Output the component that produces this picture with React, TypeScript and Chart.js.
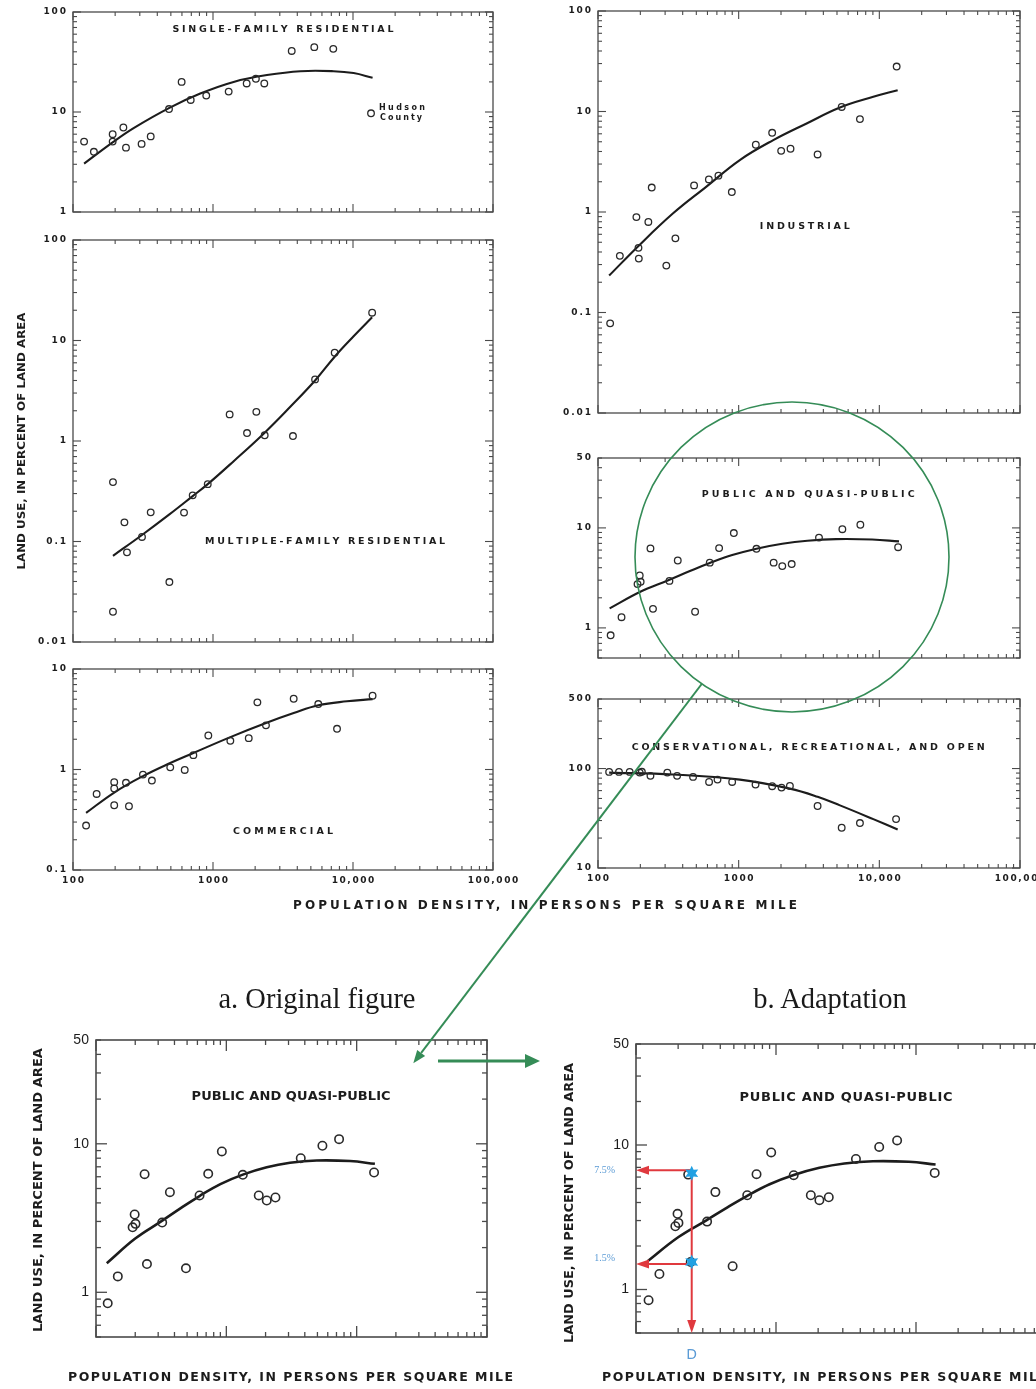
import React, { useEffect, useRef } from "react";
import { Chart, registerables } from "chart.js";
Chart.register(...registerables);

// ---------------- data ----------------
const X_TICK_LABELS = ["100", "1000", "10,000", "100,000"];
const Y_TICKS_1_100 = ["100", "10", "1"];
const Y_TICKS_001_100 = ["100", "10", "1", "0.1", "0.01"];
const Y_TICKS_01_10 = ["10", "1", "0.1"];
const Y_TICKS_05_50 = ["50", "10", "1"];
const Y_TICKS_10_500 = ["500", "100", "10"];

// Single-family residential
const singleX = [120, 141, 192, 192, 229, 239, 309, 359, 485, 597, 693, 895, 1294, 1740, 2024, 2325, 3650, 5290, 7230];
const singleY = [5.06, 4.0, 6.0, 5.06, 7.0, 4.4, 4.8, 5.7, 10.7, 20, 13.2, 14.6, 16, 19.3, 21.5, 19.3, 40.8, 44.5, 42.8];
const hudsonX = [13450];
const hudsonY = [9.7];
const singleCurveX = [120, 193, 271, 488, 811, 1403, 2430, 4210, 7260, 10100, 13800];
const singleCurveY = [3.05, 5.0, 6.9, 11.0, 15.3, 20, 23.4, 25.6, 25.6, 24.5, 22];

// Multiple-family residential
const multiX = [193, 193, 233, 243, 311, 359, 488, 621, 716, 917, 1315, 1750, 2040, 2340, 3725, 5360, 7400, 13700];
const multiY = [0.39, 0.02, 0.155, 0.078, 0.111, 0.195, 0.0395, 0.194, 0.288, 0.372, 1.84, 1.2, 1.95, 1.14, 1.12, 4.1, 7.55, 18.9];
const multiCurveX = [193, 311, 488, 716, 917, 1405, 2340, 3565, 5360, 7400, 10100, 13700];
const multiCurveY = [0.072, 0.116, 0.186, 0.283, 0.372, 0.63, 1.21, 2.19, 4.0, 6.9, 11.0, 17];

// Commercial
const commX = [124, 147.5, 197, 197, 197, 239, 251, 316, 366, 495, 628, 724, 926, 1330, 1800, 2075, 2390, 3770, 5650, 7690, 13800];
const commY = [0.277, 0.571, 0.748, 0.647, 0.441, 0.737, 0.431, 0.89, 0.776, 1.05, 0.99, 1.39, 2.18, 1.93, 2.05, 4.66, 2.75, 5.06, 4.48, 2.54, 5.42];
const commCurveX = [124, 197, 316, 495, 724, 1330, 2390, 3770, 5650, 9060, 13800];
const commCurveY = [0.37, 0.59, 0.86, 1.16, 1.46, 2.1, 2.9, 3.64, 4.35, 4.77, 5.02];

// Industrial
const indX = [122, 143, 187.5, 194, 195, 228, 241, 306, 355, 482, 614, 718, 894, 1324, 1730, 2005, 2337, 3640, 5400, 7280, 13280];
const indY = [0.078, 0.366, 0.89, 0.44, 0.344, 0.796, 1.75, 0.293, 0.547, 1.84, 2.11, 2.3, 1.58, 4.67, 6.14, 4.06, 4.26, 3.74, 11.1, 8.4, 28];
const indCurveX = [120, 194, 342, 590, 1019, 1762, 3040, 5250, 9060, 13500];
const indCurveY = [0.233, 0.46, 0.97, 1.79, 3.29, 5.19, 7.6, 10.96, 14, 16.3];

// Public and quasi-public
const pubX = [123, 147, 198, 191, 201, 236, 246, 322, 369, 490, 623, 726, 924, 1338, 1773, 2042, 2382, 3724, 5460, 7330, 13600];
const pubY = [0.843, 1.28, 3.34, 2.74, 2.89, 6.24, 1.55, 2.95, 4.72, 1.45, 4.49, 6.28, 8.88, 6.18, 4.49, 4.15, 4.35, 8.0, 9.7, 10.75, 6.41];
const pubCurveX = [121, 200, 316, 450, 623, 900, 1338, 2042, 3080, 4930, 8890, 13800];
const pubCurveY = [1.57, 2.3, 3.0, 3.7, 4.45, 5.35, 6.2, 6.95, 7.45, 7.72, 7.65, 7.33];

// Conservational, recreational and open
const consX = [120, 141, 168, 198, 205, 236, 311, 365, 474, 616, 707, 899, 1318, 1731, 2017, 2313, 3640, 5400, 7280, 13150];
const consY = [92.5, 92.5, 92.5, 91, 92.7, 84.4, 91, 84.4, 82.4, 73.3, 77.4, 73.3, 68.9, 66.4, 64.3, 66.8, 42, 25.4, 28.3, 31];
const consCurveX = [120, 342, 1019, 2313, 3640, 5250, 9060, 13500];
const consCurveY = [91, 87, 77.4, 62.8, 52, 42.6, 31, 24.4];

// Adaptation annotation
const D_VALUE = [250];
const MARK_Y = [6.7, 1.5];
const MARK_LABELS = ["7.5%", "1.5%"];
const D_LABEL = "D";

// ---------------- styling ----------------
const INK = "#1c1c1c";
const FRAME = "#4a4a4a";
const GREEN = "#358c57";
const RED = "#e0393e";
const BLUE_TXT = "#5b9bd5";
const BLUE_STAR = "#22a0e2";
const PAD_L = 78, PAD_R = 40, PAD_T = 12, PAD_B = 26;

const num = (s: string) => Number(s.replace(/,/g, ""));

type Spec = {
  key: string;
  left: number; top: number; width: number; height: number;
  yMin: number; yMax: number;
  yTicks: string[];
  xTicks?: string[];
  title: string; tfx: number; tfy: number; tw: number;
  xs: number[]; ys: number[]; cx: number[]; cy: number[];
  big?: boolean;
  extra?: (chart: any) => void;
};

function logTicks(min: number, max: number) {
  const out: { v: number; major: boolean }[] = [];
  for (let e = Math.floor(Math.log10(min)) - 1; e <= Math.ceil(Math.log10(max)); e++) {
    for (let k = 1; k <= 9; k++) {
      const v = k * Math.pow(10, e);
      if (v >= min * 0.999 && v <= max * 1.001) out.push({ v, major: k === 1 });
    }
  }
  return out;
}

function seg(ctx: CanvasRenderingContext2D, x1: number, y1: number, x2: number, y2: number) {
  ctx.beginPath(); ctx.moveTo(x1, y1); ctx.lineTo(x2, y2); ctx.stroke();
}

function drawSpaced(ctx: CanvasRenderingContext2D, text: string, x: number, y: number, align: string, spacing: number) {
  const chars = [...text];
  const ws = chars.map((c) => ctx.measureText(c).width);
  const total = ws.reduce((s, w) => s + w, 0) + spacing * (chars.length - 1);
  let cx = align === "left" ? x : align === "center" ? x - total / 2 : x - total;
  ctx.textAlign = "left";
  chars.forEach((c, i) => { ctx.fillText(c, cx, y); cx += ws[i] + spacing; });
}

function fitSpacing(ctx: CanvasRenderingContext2D, text: string, width: number) {
  const chars = [...text];
  const nat = chars.reduce((s, c) => s + ctx.measureText(c).width, 0);
  return (width - nat) / Math.max(1, chars.length - 1);
}

function arrow(ctx: CanvasRenderingContext2D, x1: number, y1: number, x2: number, y2: number, len: number, half: number) {
  const dx = x2 - x1, dy = y2 - y1; const L = Math.hypot(dx, dy);
  const ux = dx / L, uy = dy / L;
  const bx = x2 - ux * len, by = y2 - uy * len;
  seg(ctx, x1, y1, bx, by);
  ctx.beginPath();
  ctx.moveTo(x2, y2);
  ctx.lineTo(bx - uy * half, by + ux * half);
  ctx.lineTo(bx + uy * half, by - ux * half);
  ctx.closePath(); ctx.fill();
}

function star(ctx: CanvasRenderingContext2D, x: number, y: number, R: number, r: number) {
  ctx.beginPath();
  for (let i = 0; i < 12; i++) {
    const ang = -Math.PI / 2 + (i * Math.PI) / 6;
    const rad = i % 2 === 0 ? R : r;
    const px = x + rad * Math.cos(ang), py = y + rad * Math.sin(ang);
    if (i === 0) ctx.moveTo(px, py); else ctx.lineTo(px, py);
  }
  ctx.closePath(); ctx.fill();
}

function drawDecor(chart: any, spec: Spec) {
  const ctx: CanvasRenderingContext2D = chart.ctx;
  const a = chart.chartArea;
  const xs = chart.scales.x, ys = chart.scales.y;
  const big = !!spec.big;
  ctx.save();
  ctx.strokeStyle = FRAME;
  ctx.lineWidth = big ? 1.6 : 1.3;
  ctx.strokeRect(a.left, a.top, a.right - a.left, a.bottom - a.top);
  const majL = big ? 11 : 8, minL = big ? 5 : 4;
  ctx.lineWidth = big ? 1.3 : 1.1;
  for (const t of logTicks(100, 100000)) {
    const p = xs.getPixelForValue(t.v);
    const L = t.major ? majL : minL;
    seg(ctx, p, a.bottom, p, a.bottom - L);
    seg(ctx, p, a.top, p, a.top + L);
  }
  for (const t of logTicks(spec.yMin, spec.yMax)) {
    const p = ys.getPixelForValue(t.v);
    const L = t.major ? majL : minL;
    seg(ctx, a.left, p, a.left + L, p);
    seg(ctx, a.right, p, a.right - L, p);
  }
  // tick labels
  ctx.fillStyle = INK;
  ctx.textBaseline = "middle";
  ctx.font = big ? '14px "Liberation Sans"' : 'bold 9px "DejaVu Sans"';
  for (const s of spec.yTicks) {
    const py = ys.getPixelForValue(num(s));
    drawSpaced(ctx, s, a.left - 7, py, "right", big ? 0.3 : 1.9);
  }
  if (spec.xTicks) {
    for (const s of spec.xTicks) {
      const px = xs.getPixelForValue(num(s));
      drawSpaced(ctx, s, px, a.bottom + 11, "center", 1.6);
    }
  }
  // panel title
  ctx.font = big ? 'bold 13px "DejaVu Sans"' : 'bold 9.5px "DejaVu Sans"';
  const tx = a.left + spec.tfx * (a.right - a.left);
  const ty = a.top + spec.tfy * (a.bottom - a.top);
  drawSpaced(ctx, spec.title, tx, ty, "center", fitSpacing(ctx, spec.title, spec.tw));
  if (spec.extra) spec.extra(chart);
  ctx.restore();
}

function hudsonNote(chart: any) {
  const ctx: CanvasRenderingContext2D = chart.ctx;
  const xs = chart.scales.x, ys = chart.scales.y;
  const px = xs.getPixelForValue(hudsonX[0]) + 8;
  const py = ys.getPixelForValue(hudsonY[0]);
  ctx.font = 'bold 8px "DejaVu Sans"';
  ctx.fillStyle = INK;
  ctx.textBaseline = "middle";
  drawSpaced(ctx, "Hudson", px, py - 5, "left", fitSpacing(ctx, "Hudson", 46));
  drawSpaced(ctx, "County", px + 1, py + 5, "left", fitSpacing(ctx, "County", 42));
}

function adaptationMarks(chart: any) {
  const ctx: CanvasRenderingContext2D = chart.ctx;
  const a = chart.chartArea;
  const xs = chart.scales.x, ys = chart.scales.y;
  const xD = xs.getPixelForValue(D_VALUE[0]);
  const yHi = ys.getPixelForValue(MARK_Y[0]);
  const yLo = ys.getPixelForValue(MARK_Y[1]);
  ctx.strokeStyle = RED; ctx.fillStyle = RED; ctx.lineWidth = 2;
  arrow(ctx, xD, yHi, xD, a.bottom, 13, 4.5);
  arrow(ctx, xD, yHi, a.left, yHi, 13, 4.5);
  arrow(ctx, xD, yLo, a.left, yLo, 13, 4.5);
  ctx.fillStyle = BLUE_STAR;
  star(ctx, xD, yHi + 3, 7.5, 3.8);
  star(ctx, xD, yLo - 2, 7.5, 3.8);
  ctx.fillStyle = BLUE_TXT;
  ctx.textBaseline = "middle";
  ctx.font = '10px "Liberation Serif"';
  ctx.textAlign = "right";
  ctx.fillText(MARK_LABELS[0], a.left - 21, yHi);
  ctx.fillText(MARK_LABELS[1], a.left - 21, yLo - 6);
  ctx.font = '14px "DejaVu Sans"';
  ctx.textAlign = "center";
  ctx.fillText(D_LABEL, xD, a.bottom + 22);
}

const PANELS: Spec[] = [
  { key: "single", left: 73, top: 12, width: 420, height: 200, yMin: 1, yMax: 100, yTicks: Y_TICKS_1_100,
    title: "SINGLE-FAMILY RESIDENTIAL", tfx: 0.5, tfy: 0.09, tw: 221,
    xs: [...singleX, ...hudsonX], ys: [...singleY, ...hudsonY], cx: singleCurveX, cy: singleCurveY, extra: hudsonNote },
  { key: "multi", left: 73, top: 240, width: 420, height: 402, yMin: 0.01, yMax: 100, yTicks: Y_TICKS_001_100,
    title: "MULTIPLE-FAMILY RESIDENTIAL", tfx: 0.6, tfy: 0.751, tw: 240,
    xs: multiX, ys: multiY, cx: multiCurveX, cy: multiCurveY },
  { key: "comm", left: 73, top: 669, width: 420, height: 201, yMin: 0.1, yMax: 10, yTicks: Y_TICKS_01_10, xTicks: X_TICK_LABELS,
    title: "COMMERCIAL", tfx: 0.5, tfy: 0.811, tw: 100,
    xs: commX, ys: commY, cx: commCurveX, cy: commCurveY },
  { key: "ind", left: 598, top: 11, width: 422, height: 402, yMin: 0.01, yMax: 100, yTicks: Y_TICKS_001_100,
    title: "INDUSTRIAL", tfx: 0.49, tfy: 0.535, tw: 90,
    xs: indX, ys: indY, cx: indCurveX, cy: indCurveY },
  { key: "pub", left: 598, top: 458, width: 422, height: 200, yMin: 0.5, yMax: 50, yTicks: Y_TICKS_05_50,
    title: "PUBLIC AND QUASI-PUBLIC", tfx: 0.498, tfy: 0.185, tw: 213,
    xs: pubX, ys: pubY, cx: pubCurveX, cy: pubCurveY },
  { key: "cons", left: 598, top: 699, width: 422, height: 169, yMin: 10, yMax: 500, yTicks: Y_TICKS_10_500, xTicks: X_TICK_LABELS,
    title: "CONSERVATIONAL, RECREATIONAL, AND OPEN", tfx: 0.498, tfy: 0.29, tw: 353,
    xs: consX, ys: consY, cx: consCurveX, cy: consCurveY },
  { key: "b1", left: 96, top: 1040, width: 391, height: 297, yMin: 0.5, yMax: 50, yTicks: Y_TICKS_05_50,
    title: "PUBLIC AND QUASI-PUBLIC", tfx: 0.499, tfy: 0.192, tw: 199,
    xs: pubX, ys: pubY, cx: pubCurveX, cy: pubCurveY, big: true },
  { key: "b2", left: 636, top: 1044, width: 420, height: 289, yMin: 0.5, yMax: 50, yTicks: Y_TICKS_05_50,
    title: "PUBLIC AND QUASI-PUBLIC", tfx: 0.5, tfy: 0.187, tw: 213,
    xs: pubX, ys: pubY, cx: pubCurveX, cy: pubCurveY, big: true, extra: adaptationMarks },
];

function Panel({ spec }: { spec: Spec }) {
  const ref = useRef<HTMLCanvasElement>(null);
  const W = spec.width + PAD_L + PAD_R;
  const H = spec.height + PAD_T + PAD_B;
  useEffect(() => {
    const big = !!spec.big;
    const chart = new Chart(ref.current as HTMLCanvasElement, {
      type: "scatter",
      data: {
        datasets: [
          {
            data: spec.cx.map((x, i) => ({ x, y: spec.cy[i] })),
            showLine: true,
            tension: 0.4,
            pointRadius: 0,
            borderColor: INK,
            borderWidth: big ? 2.6 : 2.1,
            order: 1,
          } as any,
          {
            data: spec.xs.map((x, i) => ({ x, y: spec.ys[i] })),
            showLine: false,
            pointStyle: "circle",
            pointRadius: big ? 4.2 : 3.3,
            pointBorderWidth: big ? 1.6 : 1.3,
            pointBorderColor: "#2a2a2a",
            pointBackgroundColor: "rgba(0,0,0,0)",
            borderColor: "#2a2a2a",
            backgroundColor: "rgba(0,0,0,0)",
            order: 0,
          } as any,
        ],
      },
      options: {
        animation: false,
        responsive: false,
        events: [],
        layout: { padding: { left: PAD_L, right: PAD_R, top: PAD_T, bottom: PAD_B } },
        plugins: { legend: { display: false }, tooltip: { enabled: false } },
        scales: {
          x: { type: "logarithmic", min: 100, max: 100000, display: false },
          y: { type: "logarithmic", min: spec.yMin, max: spec.yMax, display: false },
        },
      } as any,
      plugins: [{ id: "decor", afterDraw: (c: any) => drawDecor(c, spec) }],
    });
    return () => chart.destroy();
  }, [spec]);
  return (
    <canvas
      ref={ref}
      width={W}
      height={H}
      style={{ position: "absolute", left: spec.left - PAD_L, top: spec.top - PAD_T, width: W, height: H }}
    />
  );
}

function headPts(x1: number, y1: number, x2: number, y2: number, len: number, half: number) {
  const dx = x2 - x1, dy = y2 - y1; const L = Math.hypot(dx, dy);
  const ux = dx / L, uy = dy / L;
  const bx = x2 - ux * len, by = y2 - uy * len;
  return {
    bx, by,
    pts: `${x2},${y2} ${bx - uy * half},${by + ux * half} ${bx + uy * half},${by - ux * half}`,
  };
}

function Overlay() {
  const d1 = headPts(701.7, 684, 413.3, 1063.3, 13, 5);
  const d2 = headPts(438, 1061, 540, 1061, 15, 7);
  const sans = '"DejaVu Sans"';
  return (
    <svg width={1036} height={1389} style={{ position: "absolute", left: 0, top: 0 }}>
      <text x={293} y={909} textLength={504} lengthAdjust="spacing" fontFamily={sans} fontWeight="bold" fontSize={12} fill={INK}>
        POPULATION DENSITY, IN PERSONS PER SQUARE MILE
      </text>
      <text x={21} y={441} transform="rotate(-90 21 441)" textAnchor="middle" dominantBaseline="central" textLength={257} lengthAdjust="spacingAndGlyphs" fontFamily={sans} fontWeight="bold" fontSize={11} fill={INK}>
        LAND USE, IN PERCENT OF LAND AREA
      </text>
      <text x={317} y={1008} textAnchor="middle" fontFamily='"Liberation Serif"' fontSize={28.5} fill="#1a1a1a">a. Original figure</text>
      <text x={830} y={1008} textAnchor="middle" fontFamily='"Liberation Serif"' fontSize={28.5} fill="#1a1a1a">b. Adaptation</text>
      <text x={68} y={1381} textLength={445} lengthAdjust="spacing" fontFamily={sans} fontWeight="bold" fontSize={12.5} fill={INK}>
        POPULATION DENSITY, IN PERSONS PER SQUARE MILE
      </text>
      <text x={37} y={1190} transform="rotate(-90 37 1190)" textAnchor="middle" dominantBaseline="central" textLength={284} lengthAdjust="spacingAndGlyphs" fontFamily={sans} fontWeight="bold" fontSize={12.5} fill={INK}>
        LAND USE, IN PERCENT OF LAND AREA
      </text>
      <text x={602} y={1381} textLength={445} lengthAdjust="spacing" fontFamily={sans} fontWeight="bold" fontSize={12.5} fill={INK}>
        POPULATION DENSITY, IN PERSONS PER SQUARE MILE
      </text>
      <text x={568} y={1203} transform="rotate(-90 568 1203)" textAnchor="middle" dominantBaseline="central" textLength={280} lengthAdjust="spacingAndGlyphs" fontFamily={sans} fontWeight="bold" fontSize={12.5} fill={INK}>
        LAND USE, IN PERCENT OF LAND AREA
      </text>
      <ellipse cx={792} cy={557} rx={157} ry={155} fill="none" stroke={GREEN} strokeWidth={1.6} />
      <line x1={701.7} y1={684} x2={d1.bx} y2={d1.by} stroke={GREEN} strokeWidth={2} />
      <polygon points={d1.pts} fill={GREEN} />
      <line x1={438} y1={1061} x2={d2.bx} y2={d2.by} stroke={GREEN} strokeWidth={2.8} />
      <polygon points={d2.pts} fill={GREEN} />
    </svg>
  );
}

export default function App() {
  return (
    <div style={{ position: "absolute", left: 0, top: 0, width: 1036, height: 1389, overflow: "hidden", background: "#fff" }}>
      {PANELS.map((p) => (
        <Panel key={p.key} spec={p} />
      ))}
      <Overlay />
    </div>
  );
}
